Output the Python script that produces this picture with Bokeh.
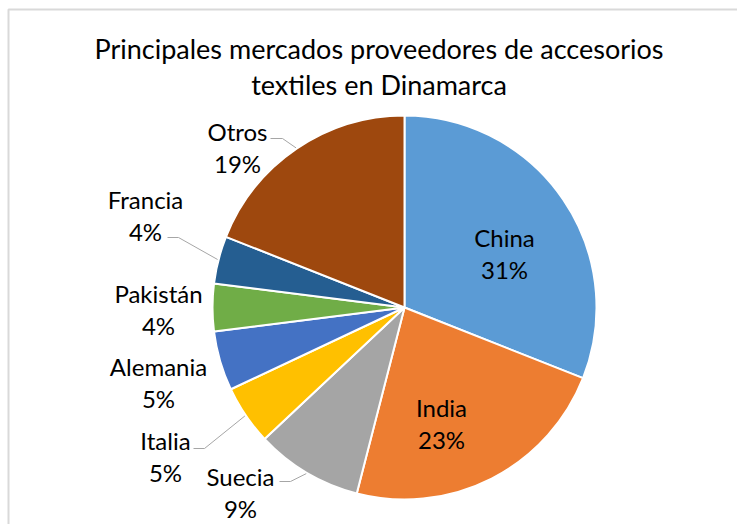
import math
from bokeh.plotting import figure
from bokeh.models import Range1d, ColumnDataSource
from bokeh.core.properties import value
from bokeh.embed import file_html
from bokeh.resources import INLINE

# ---- data ----
categories = ["China", "India", "Suecia", "Italia", "Alemania", "Pakistán", "Francia", "Otros"]
shares = [31, 23, 9, 5, 5, 4, 4, 19]
colors = ["#5B9BD5", "#ED7D31", "#A5A5A5", "#FFC000", "#4472C4", "#70AD47", "#255E91", "#9E480E"]
title_lines = ["Principales mercados proveedores de accesorios", "textiles en Dinamarca"]

# ---- layout (pixel coords, origin top-left) ----
W, H = 737, 524
CX, CY, R = 404, 307, 192
FONT = "Lato"
label_centers = {
    "China": (504, 253), "India": (441, 423), "Suecia": (240, 492), "Italia": (165, 456),
    "Alemania": (158, 382), "Pakistán": (158, 309), "Francia": (145, 215), "Otros": (237, 147),
}
leaders = {  # start, elbow (pixel)
    "Suecia": ((279, 481), (290, 481)),
    "Italia": ((193, 448), (204, 448)),
    "Francia": ((167, 237), (178, 237)),
    "Otros": ((270, 138), (282, 138)),
}
LINE_GAP = 32


def Y(py):
    return H - py


p = figure(width=W, height=H, output_backend="svg", toolbar_location=None,
           x_range=Range1d(0, W), y_range=Range1d(0, H), min_border=0,
           background_fill_color="white", border_fill_color="white")
p.axis.visible = False
p.grid.visible = False
p.outline_line_color = None

# chart border
p.quad(left=[8], right=[W + 20], top=[Y(9)], bottom=[-20], fill_color=None,
       line_color="#D9D9D9", line_width=2)

total = float(sum(shares))
starts, ends, mids = [], [], []
cum = 0.0
for v in shares:
    a0 = math.pi / 2 - 2 * math.pi * cum / total
    cum += v
    a1 = math.pi / 2 - 2 * math.pi * cum / total
    starts.append(a0)
    ends.append(a1)
    mids.append((a0 + a1) / 2)

src = ColumnDataSource(dict(x=[CX] * len(shares), y=[Y(CY)] * len(shares),
                            start=starts, end=ends, color=colors))
p.wedge(x="x", y="y", radius=R, start_angle="start", end_angle="end", direction="clock",
        fill_color="color", line_color="white", line_width=2, source=src)

# leader lines
for name, ((sx, sy), (ex, ey)) in leaders.items():
    i = categories.index(name)
    px = CX + (R + 1) * math.cos(mids[i])
    py = CY - (R + 1) * math.sin(mids[i])
    p.line(x=[sx, ex, px], y=[Y(sy), Y(ey), Y(py)], line_color="#A6A6A6", line_width=1)

# labels
names_x, names_y, pct_x, pct_y, pct_t = [], [], [], [], []
for name, v in zip(categories, shares):
    bx, by = label_centers[name]
    names_x.append(bx)
    names_y.append(Y(by - LINE_GAP / 2))
    pct_x.append(bx)
    pct_y.append(Y(by + LINE_GAP / 2))
    pct_t.append(f"{round(100 * v / total)}%")

p.text(x=names_x, y=names_y, text=categories, text_font=value(FONT), text_font_size="24px",
       text_align="center", text_baseline="middle", text_color="#000000")
p.text(x=pct_x, y=pct_y, text=pct_t, text_font=value(FONT), text_font_size="24px",
       text_align="center", text_baseline="middle", text_color="#000000")

# title
p.text(x=[W / 2 + 10, W / 2 + 10], y=[Y(48), Y(84)], text=title_lines, text_font=value(FONT),
       text_font_size="27px", text_align="center", text_baseline="middle", text_color="#000000")

open("out.html", "w").write(file_html(p, INLINE))
